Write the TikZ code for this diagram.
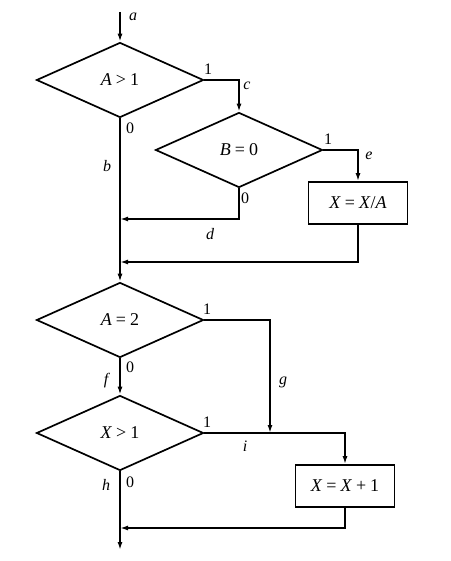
\documentclass[tikz,border=0pt]{standalone}
\usepackage{fontspec}
\setmainfont{Liberation Serif}
\usetikzlibrary{shapes.geometric,arrows.meta}
\tikzset{
  dec/.style={diamond, draw, minimum width=167pt, minimum height=75pt, inner sep=0pt, font=\fontsize{18}{20}\selectfont},
  proc/.style={rectangle, draw, minimum width=99pt, minimum height=42pt, inner sep=0pt, font=\fontsize{18}{20}\selectfont},
  arr/.style={-{Latex[length=8pt,width=5pt]}},
  lbl/.style={font=\fontsize{16}{18}\selectfont\itshape, inner sep=0pt},
  num/.style={font=\fontsize{16}{18}\selectfont, inner sep=0pt}
}
\newcommand{\gapsp}{\hspace{0.22em}}
\begin{document}
\begin{tikzpicture}[x=1pt,y=-1pt,line width=1.7pt]
\useasboundingbox (0,0) rectangle (450,561);
\node[dec] (d1) at (120,80) {\textit{A}\gapsp>\gapsp1};
\node[dec] (d2) at (239,150) {\textit{B}\gapsp=\gapsp0};
\node[proc] (b1) at (358,203) {\textit{X}\gapsp=\gapsp\textit{X}/\textit{A}};
\node[dec] (d3) at (120,320) {\textit{A}\gapsp=\gapsp2};
\node[dec] (d4) at (120,433) {\textit{X}\gapsp>\gapsp1};
\node[proc] (b2) at (345,486) {\textit{X}\gapsp=\gapsp\textit{X}\gapsp+\gapsp1};
\coordinate (start) at (120,12);
\coordinate (j1) at (120,219);
\coordinate (j2) at (120,262);
\coordinate (ci) at (270,433);
\coordinate (j3) at (120,528);
\coordinate (stop) at (120,550);
\draw[arr] (start) -- (d1.north);
\draw[arr] (d1.east) -| (d2.north);
\draw[arr] (d2.east) -| (b1.north);
\draw[arr] (d2.south) |- (j1);
\draw[arr] (b1.south) |- (j2);
\draw[arr] (d1.south) -- (d3.north);
\draw[arr] (d3.east) -| (ci);
\draw[arr] (d3.south) -- (d4.north);
\draw[arr] (d4.east) -| (b2.north);
\draw[arr] (b2.south) |- (j3);
\draw[arr] (d4.south) -- (stop);
% labels
\node[lbl] (la) at (133,17) {a};
\node[num] (n1a) at (208,69) {1};
\node[lbl] (lc) at (247,86) {c};
\node[num] (n0a) at (130,128) {0};
\node[lbl] (lb) at (107,166) {b};
\node[num] (n1b) at (328,139) {1};
\node[lbl] (le) at (369,156) {e};
\node[num] (n0b) at (245,198) {0};
\node[lbl] (ld) at (210,234) {d};
\node[num] (n1c) at (207,309) {1};
\node[lbl] (lg) at (283,382) {g};
\node[num] (n0c) at (130,367) {0};
\node[lbl] (lf) at (106,381) {f};
\node[num] (n1d) at (207,422) {1};
\node[lbl] (li) at (245,446) {i};
\node[num] (n0d) at (130,482) {0};
\node[lbl] (lh) at (106,485) {h};
\end{tikzpicture}
\end{document}
